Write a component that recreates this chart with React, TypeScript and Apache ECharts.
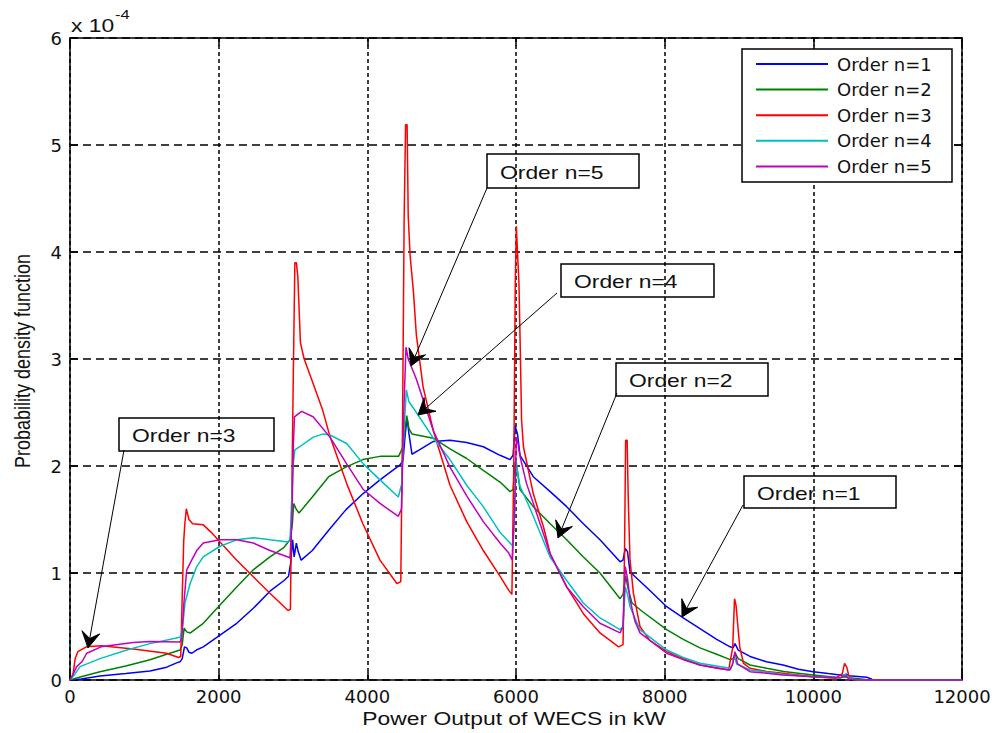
import React, { useEffect, useRef } from "react";
import * as echarts from "echarts";

// ---------- data (power in kW, pdf in units of 1e-4) ----------
const seriesNames = ["Order n=1", "Order n=2", "Order n=3", "Order n=4", "Order n=5"];
const seriesColors = ["#0000ff", "#008000", "#ff0000", "#00bfbf", "#bf00bf"];
const yTickLabels = ["0", "1", "2", "3", "4", "5", "6"];
const xTickLabels = ["0", "2000", "4000", "6000", "8000", "10000", "12000"];

const order1 = [
  [0, 0], [150, 0.01], [404, 0.037], [750, 0.06], [1076, 0.084], [1300, 0.12], [1435, 0.16], [1480, 0.17],
  [1510, 0.2], [1540, 0.31], [1570, 0.3], [1600, 0.26], [1640, 0.25], [1700, 0.28], [1793, 0.31], [2018, 0.42],
  [2243, 0.53], [2466, 0.67], [2690, 0.83], [2880, 0.93], [2940, 0.97], [2970, 1.1], [2995, 1.31], [3015, 1.15],
  [3045, 1.28], [3070, 1.2], [3110, 1.12], [3260, 1.21], [3480, 1.4], [3710, 1.59], [3940, 1.74], [4170, 1.87],
  [4440, 2.01], [4480, 2.05], [4510, 2.3], [4535, 2.45], [4560, 2.3], [4600, 2.11], [4700, 2.15], [4888, 2.23],
  [5112, 2.24], [5337, 2.22], [5560, 2.18], [5785, 2.1], [5920, 2.06], [5960, 2.1], [5990, 2.37], [6020, 2.3],
  [6054, 2.1], [6233, 1.9], [6460, 1.76], [6682, 1.62], [6906, 1.46], [7130, 1.31], [7400, 1.105], [7440, 1.12],
  [7470, 1.23], [7500, 1.2], [7534, 1.01], [7780, 0.85], [8027, 0.685], [8250, 0.58], [8475, 0.48], [8700, 0.38],
  [8880, 0.31], [8920, 0.3], [8946, 0.34], [8990, 0.28], [9148, 0.22], [9370, 0.17], [9592, 0.14], [9800, 0.1],
  [9996, 0.078], [10200, 0.06], [10359, 0.047], [10420, 0.045], [10440, 0.055], [10480, 0.04], [10718, 0.025],
  [10780, 0.01], [10800, 0], [12000, 0],
];

const order2 = [
  [0, 0], [150, 0.03], [404, 0.078], [750, 0.13], [1076, 0.19], [1300, 0.24], [1480, 0.28], [1510, 0.33],
  [1535, 0.485], [1570, 0.45], [1620, 0.44], [1793, 0.53], [2018, 0.7], [2243, 0.87], [2466, 1.03], [2690, 1.15],
  [2880, 1.24], [2960, 1.31], [2990, 1.45], [3010, 1.65], [3040, 1.6], [3080, 1.56], [3260, 1.71], [3480, 1.9],
  [3710, 1.99], [3940, 2.06], [4170, 2.09], [4420, 2.09], [4480, 2.18], [4500, 2.3], [4530, 2.47], [4560, 2.35],
  [4600, 2.3], [4888, 2.26], [5112, 2.16], [5337, 2.07], [5560, 1.96], [5785, 1.85], [5920, 1.76], [5960, 1.78],
  [5990, 2.04], [6020, 1.95], [6054, 1.78], [6233, 1.62], [6460, 1.46], [6682, 1.31], [6906, 1.15], [7130, 1.0],
  [7400, 0.76], [7440, 0.8], [7475, 0.97], [7510, 0.85], [7560, 0.72], [7700, 0.64], [8027, 0.47], [8250, 0.38],
  [8475, 0.3], [8700, 0.24], [8880, 0.19], [8920, 0.2], [8950, 0.25], [8990, 0.2], [9148, 0.14], [9372, 0.11],
  [9600, 0.08], [9996, 0.047], [10359, 0.02], [10430, 0.03], [10480, 0.02], [10700, 0.005], [10800, 0], [12000, 0],
];

const order3 = [
  [0, 0], [40, 0.05], [70, 0.2], [105, 0.265], [220, 0.31], [420, 0.32], [850, 0.29], [1300, 0.25], [1460, 0.21],
  [1490, 0.22], [1510, 0.8], [1530, 1.3], [1545, 1.46], [1565, 1.6], [1600, 1.5], [1650, 1.46], [1793, 1.45],
  [1900, 1.38], [2018, 1.29], [2243, 1.12], [2466, 0.965], [2690, 0.81], [2933, 0.65], [2965, 0.66], [2985, 1.8],
  [3005, 2.9], [3025, 3.9], [3045, 3.9], [3065, 3.77], [3100, 3.15], [3150, 3.0], [3240, 2.83], [3400, 2.52],
  [3500, 2.27], [3720, 1.84], [3940, 1.46], [4170, 1.12], [4400, 0.9], [4450, 0.92], [4475, 2.5], [4495, 4.3],
  [4515, 5.19], [4535, 5.19], [4550, 4.34], [4575, 3.97], [4620, 3.63], [4660, 3.22], [4750, 2.74], [4888, 2.33],
  [5112, 1.82], [5337, 1.48], [5560, 1.21], [5785, 0.97], [5900, 0.84], [5945, 0.8], [5970, 2.0], [5990, 3.7],
  [6005, 4.24], [6020, 4.0], [6040, 3.7], [6060, 3.0], [6075, 2.43], [6100, 2.18], [6233, 1.74], [6370, 1.43],
  [6460, 1.18], [6682, 0.87], [6906, 0.62], [7130, 0.44], [7380, 0.31], [7440, 0.33], [7460, 1.2], [7475, 2.24],
  [7495, 2.24], [7510, 1.7], [7534, 1.12], [7580, 0.81], [7668, 0.5], [7800, 0.37], [8027, 0.265], [8250, 0.2],
  [8475, 0.14], [8700, 0.11], [8860, 0.093], [8915, 0.3], [8940, 0.76], [8960, 0.7], [8985, 0.5], [9010, 0.31],
  [9060, 0.156], [9148, 0.11], [9370, 0.08], [9592, 0.062], [9996, 0.03], [10300, 0.016], [10390, 0.06],
  [10420, 0.156], [10450, 0.12], [10480, 0.03], [10550, 0], [12000, 0],
];

const order4 = [
  [0, 0], [60, 0.05], [135, 0.125], [404, 0.2], [763, 0.28], [1076, 0.34], [1480, 0.4], [1505, 0.45], [1530, 0.6],
  [1547, 0.72], [1615, 0.9], [1705, 1.06], [1793, 1.15], [2018, 1.25], [2243, 1.31], [2466, 1.33], [2690, 1.31],
  [2933, 1.29], [2960, 1.3], [2985, 1.7], [3000, 2.0], [3025, 2.15], [3090, 2.18], [3273, 2.27], [3408, 2.3],
  [3497, 2.29], [3722, 2.21], [3946, 2.02], [4170, 1.87], [4417, 1.71], [4462, 1.83], [4490, 2.3], [4525, 2.71],
  [4560, 2.6], [4660, 2.5], [4888, 2.26], [5112, 2.06], [5337, 1.82], [5560, 1.62], [5785, 1.38], [5920, 1.28],
  [5960, 1.25], [5985, 1.6], [6000, 2.06], [6030, 1.9], [6054, 1.81], [6140, 1.68], [6233, 1.53], [6458, 1.15],
  [6682, 0.93], [6906, 0.72], [7130, 0.58], [7400, 0.47], [7440, 0.5], [7470, 0.87], [7500, 0.8], [7534, 0.685],
  [7668, 0.47], [8027, 0.28], [8250, 0.21], [8475, 0.156], [8880, 0.11], [8910, 0.14], [8935, 0.22], [8970, 0.15],
  [9148, 0.093], [9592, 0.053], [9996, 0.03], [10359, 0.02], [10430, 0.05], [10480, 0.02], [10550, 0.005],
  [10600, 0], [12000, 0],
];

const order5 = [
  [0, 0], [60, 0.08], [90, 0.125], [160, 0.17], [225, 0.25], [418, 0.31], [850, 0.35], [1076, 0.36], [1480, 0.355],
  [1505, 0.4], [1530, 0.7], [1570, 1.03], [1637, 1.12], [1705, 1.21], [1793, 1.28], [2018, 1.31], [2243, 1.31],
  [2466, 1.28], [2690, 1.21], [2933, 1.15], [2960, 1.14], [2985, 1.5], [3005, 2.2], [3020, 2.46], [3115, 2.51],
  [3270, 2.46], [3497, 2.27], [3722, 2.02], [3946, 1.78], [4170, 1.65], [4417, 1.53], [4460, 1.6], [4490, 2.5],
  [4520, 3.11], [4550, 3.0], [4660, 2.81], [4888, 2.33], [5112, 1.99], [5337, 1.72], [5560, 1.48], [5785, 1.28],
  [5900, 1.19], [5950, 1.12], [5980, 1.6], [6005, 2.27], [6030, 2.2], [6054, 2.09], [6140, 1.84], [6233, 1.65],
  [6458, 1.18], [6682, 0.87], [6906, 0.685], [7130, 0.53], [7400, 0.44], [7440, 0.5], [7470, 1.06], [7500, 0.95],
  [7534, 0.75], [7600, 0.55], [7668, 0.44], [8027, 0.25], [8250, 0.19], [8475, 0.14], [8880, 0.093], [8915, 0.15],
  [8946, 0.265], [8980, 0.15], [9148, 0.078], [9592, 0.047], [9996, 0.03], [10359, 0.02], [10430, 0.04],
  [10480, 0.01], [10550, 0], [12000, 0],
];

const seriesData = [order1, order2, order3, order4, order5];

// annotation labels (text arrows)
const annotationTexts = ["Order n=3", "Order n=5", "Order n=4", "Order n=2", "Order n=1"];

export default function App() {
  const ref = useRef<HTMLDivElement>(null);

  useEffect(() => {
    if (!ref.current) return;
    const chart = echarts.init(ref.current, null, { renderer: "svg" });
    const font = "DejaVu Sans";
    const gFont = "Liberation Sans";
    const sx = 1.27;

    // layout of annotation boxes / arrows (pixels)
    const annLayout = [
      { box: [119, 418, 155, 33], tail: [124, 450], tip: [88, 648] },
      { box: [487, 154, 152, 34], tail: [487, 188], tip: [411, 366] },
      { box: [561, 264, 153, 33], tail: [557, 293], tip: [418, 415] },
      { box: [616, 363, 152, 33], tail: [617, 393], tip: [558, 538] },
      { box: [744, 476, 152, 32], tail: [743, 505], tip: [682, 617] },
    ];

    const textStyle = (text: string, size: number, align: string) => ({
      text,
      fontSize: size,
      fontFamily: gFont,
      fill: "#111",
      align,
      verticalAlign: "middle",
      textAlign: align,
      textVerticalAlign: "middle",
    });

    const graphics: any[] = [];
    // legend frame
    graphics.push({
      type: "rect",
      z: 3,
      shape: { x: 742, y: 49, width: 210, height: 133 },
      style: { fill: "#ffffff", stroke: "#000000", lineWidth: 1.5 },
    });
    // exponent label
    graphics.push({ type: "text", x: 71, y: 25, scaleX: sx, z: 5, style: textStyle("x 10", 18, "left") });
    graphics.push({ type: "text", x: 115, y: 15, scaleX: sx, z: 5, style: textStyle("-4", 13, "left") });
    // axis titles
    graphics.push({
      type: "text",
      x: 514,
      y: 718,
      scaleX: sx,
      z: 5,
      style: textStyle("Power Output of WECS in kW", 18, "center"),
    });
    graphics.push({
      type: "text",
      x: 22,
      y: 361,
      rotation: Math.PI / 2,
      scaleY: sx,
      z: 5,
      style: textStyle("Probability density function", 18, "center"),
    });

    annLayout.forEach((a, i) => {
      const [bx, by, bw, bh] = a.box;
      graphics.push({
        type: "rect",
        z: 6,
        shape: { x: bx, y: by, width: bw, height: bh },
        style: { fill: "none", stroke: "#000", lineWidth: 1.5 },
      });
      graphics.push({
        type: "text",
        x: bx + 13,
        y: by + bh / 2 + 1,
        scaleX: sx,
        z: 6,
        style: textStyle(annotationTexts[i], 18, "left"),
      });
      const [tx, ty] = a.tail;
      const [px, py] = a.tip;
      const dx = px - tx;
      const dy = py - ty;
      const len = Math.sqrt(dx * dx + dy * dy);
      const ux = dx / len;
      const uy = dy / len;
      const nx = -uy;
      const ny = ux;
      const L = 16;
      const W = 9;
      const bxC = px - ux * L;
      const byC = py - uy * L;
      const notchX = px - ux * L * 0.6;
      const notchY = py - uy * L * 0.6;
      graphics.push({
        type: "line",
        z: 6,
        shape: { x1: tx, y1: ty, x2: notchX, y2: notchY },
        style: { stroke: "#000", lineWidth: 1 },
      });
      graphics.push({
        type: "polygon",
        z: 6,
        shape: {
          points: [
            [px, py],
            [bxC + nx * W, byC + ny * W],
            [notchX, notchY],
            [bxC - nx * W, byC - ny * W],
          ],
        },
        style: { fill: "#000", stroke: "#000", lineWidth: 1 },
      });
    });

    const axisLineStyle = { color: "#000", width: 1.5 };
    const tickStyle = { color: "#000", width: 1.5 };

    chart.setOption({
      animation: false,
      backgroundColor: "#ffffff",
      grid: { left: 70, right: 37, top: 38, bottom: 53, containLabel: false },
      legend: {
        data: seriesNames,
        orient: "vertical",
        left: 756,
        top: 54,
        padding: 0,
        itemWidth: 72,
        itemHeight: 2,
        itemGap: 5.6,
        icon: "rect",
        z: 6,
        textStyle: {
          fontFamily: font,
          fontSize: 18,
          color: "#111",
          lineHeight: 20,
          padding: [0, 0, 0, 4],
        },
      },
      xAxis: [
        {
          type: "value",
          min: 0,
          max: 12000,
          interval: 2000,
          position: "bottom",
          axisLine: { show: true, onZero: false, lineStyle: axisLineStyle },
          axisTick: { show: true, inside: true, length: 8, lineStyle: tickStyle },
          axisLabel: {
            color: "#111",
            fontFamily: font,
            fontSize: 18,
            margin: 7,
            formatter: (v: number) => xTickLabels[Math.round(v / 2000)] ?? String(v),
          },
          splitLine: { show: true, lineStyle: { color: "#000", width: 1.5, type: [4, 3] } },
        },
        {
          type: "value",
          min: 0,
          max: 12000,
          interval: 2000,
          position: "top",
          axisLine: { show: true, onZero: false, lineStyle: axisLineStyle },
          axisTick: { show: true, inside: true, length: 8, lineStyle: tickStyle },
          axisLabel: { show: false },
          splitLine: { show: false },
        },
      ],
      yAxis: [
        {
          type: "value",
          min: 0,
          max: 6,
          interval: 1,
          position: "left",
          axisLine: { show: true, onZero: false, lineStyle: axisLineStyle },
          axisTick: { show: true, inside: true, length: 8, lineStyle: tickStyle },
          axisLabel: {
            color: "#111",
            fontFamily: font,
            fontSize: 18,
            margin: 8,
            formatter: (v: number) => yTickLabels[Math.round(v)] ?? String(v),
          },
          splitLine: { show: true, lineStyle: { color: "#000", width: 1.5, type: [8, 5] } },
        },
        {
          type: "value",
          min: 0,
          max: 6,
          interval: 1,
          position: "right",
          axisLine: { show: true, onZero: false, lineStyle: axisLineStyle },
          axisTick: { show: true, inside: true, length: 8, lineStyle: tickStyle },
          axisLabel: { show: false },
          splitLine: { show: false },
        },
      ],
      series: seriesNames.map((name, i) => ({
        name,
        type: "line",
        xAxisIndex: 0,
        yAxisIndex: 0,
        data: seriesData[i],
        showSymbol: false,
        symbol: "none",
        lineStyle: { color: seriesColors[i], width: 1.5 },
        itemStyle: { color: seriesColors[i] },
        z: 2 + i * 0.01,
      })),
      graphic: { elements: graphics },
    });

    return () => {
      chart.dispose();
    };
  }, []);

  return (
    <div
      ref={ref}
      style={{ position: "absolute", left: 0, top: 0, width: 999, height: 733, background: "#fff" }}
    />
  );
}
